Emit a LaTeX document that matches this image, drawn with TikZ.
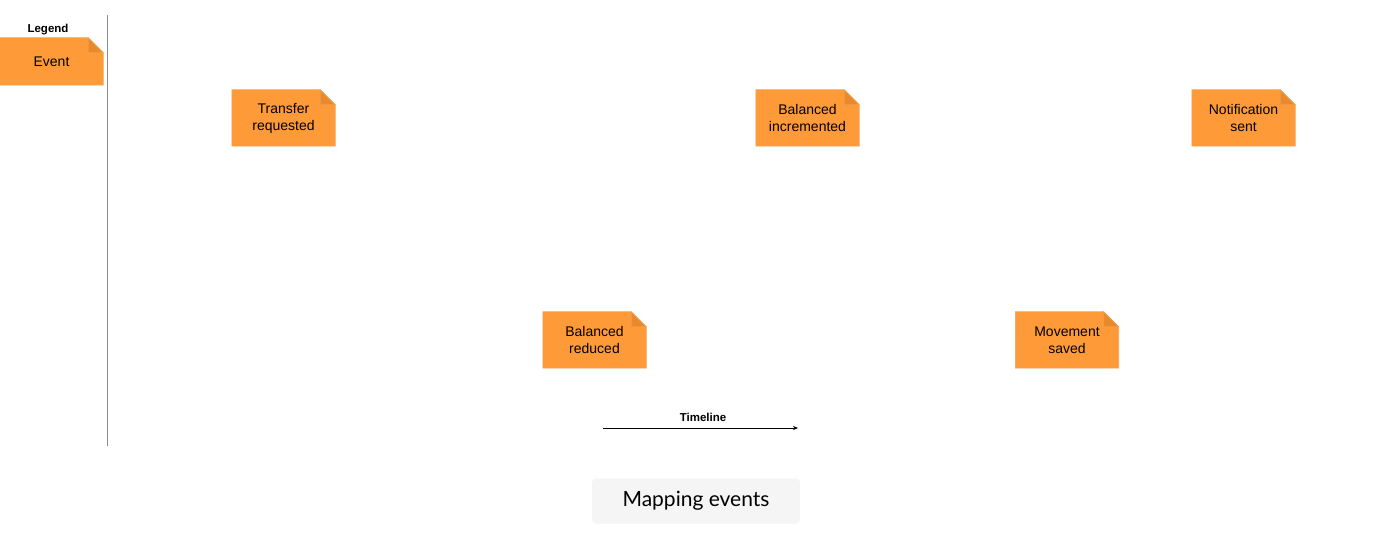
\documentclass[tikz,border=0pt]{standalone}
\usepackage{fontspec}
\setmainfont{Liberation Sans}
\newfontfamily\titlefont{Lato}
\usetikzlibrary{positioning,backgrounds,arrows.meta}
\definecolor{notefill}{HTML}{FF9A38}
\definecolor{notedraw}{HTML}{F0A050}
\definecolor{notefold}{HTML}{E8892C}
\definecolor{titlefill}{HTML}{F5F5F5}
\tikzset{
  every node/.style={font=\fontsize{14}{17}\selectfont},
  eventnote/.style={
    minimum width=103pt,
    minimum height=56pt,
    inner sep=0pt,
    align=center
  }
}

\begin{document}
\begin{tikzpicture}[x=1pt,y=-1pt]
  \useasboundingbox (0,0) rectangle (1385,537);

  % Legend
  \node[font=\fontsize{11.5}{13}\selectfont\bfseries] (legendtitle) at (48,29.5) {Legend};
  \node[eventnote, minimum height=47pt] (legend) at (51.5,61.5) {Event};
  \coordinate (sepTop) at (107,15);
  \coordinate (sepBot) at (107,446);
  \draw[black!45, line width=0.8pt] (sepTop) -- (sepBot);

  % Events
  \node[eventnote] (transfer) at (283.5,118) {Transfer\\requested};
  \node[eventnote] (incremented) at (807.5,118) {Balanced\\incremented};
  \node[eventnote] (notified) at (1243.5,118) {Notification\\sent};
  \node[eventnote] (reduced) at (594.5,340) {Balanced\\reduced};
  \node[eventnote] (saved) at (1067,340) {Movement\\saved};

  % Note shapes behind the texts
  \begin{scope}[on background layer]
    \foreach \n in {legend,transfer,incremented,notified,reduced,saved} {
      \filldraw[fill=notefill, draw=notedraw, line width=0.6pt]
        (\n.north west) -- ([xshift=-15pt]\n.north east)
        -- ([yshift=-15pt]\n.north east) -- (\n.south east)
        -- (\n.south west) -- cycle;
      \filldraw[fill=notefold, draw=notedraw, line width=0.6pt]
        ([xshift=-15pt]\n.north east) -- ([xshift=-15pt,yshift=-15pt]\n.north east)
        -- ([yshift=-15pt]\n.north east) -- cycle;
    }
  \end{scope}

  % Timeline
  \coordinate (tlStart) at (603,428);
  \coordinate (tlEnd) at (798,428);
  \draw[-{Stealth[length=5pt,width=4pt]}, line width=0.7pt] (tlStart) -- (tlEnd);
  \node[font=\fontsize{11.5}{13}\selectfont\bfseries] (timeline) at (703,417.5) {Timeline};

  % Title
  \node[fill=titlefill, rounded corners=4pt, minimum width=208pt, minimum height=45pt,
        font=\titlefont\fontsize{21}{24}\selectfont] (title) at (696,501) {Mapping events};
\end{tikzpicture}
\end{document}
